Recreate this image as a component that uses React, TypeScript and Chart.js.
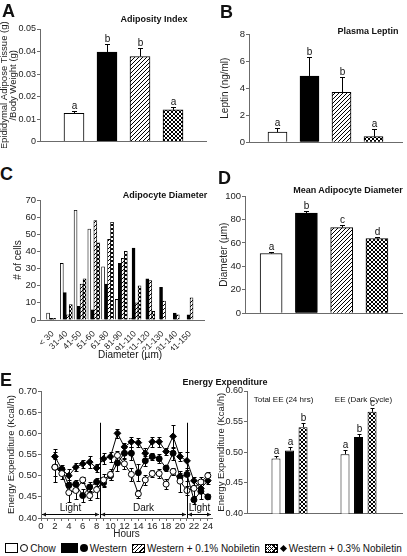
import React, { useEffect, useRef } from 'react';
import { Chart, registerables } from 'chart.js';

Chart.register(...registerables);

const FONT = "'Liberation Sans', Arial, Helvetica, sans-serif";
Chart.defaults.font.family = FONT;
Chart.defaults.color = '#222';

// ---------------- data ----------------
const treatments = ['Chow', 'Western', 'Western + 0.1% Nobiletin', 'Western + 0.3% Nobiletin'];

// A: adiposity index
const adiposityIndex = [0.0125, 0.0398, 0.0378, 0.0141];
const adiposityErr = [0.0011, 0.0034, 0.0037, 0.0011];
const adiposityLetters = ['a', 'b', 'b', 'a'];

// B: plasma leptin
const leptinValues = [0.75, 4.9, 3.7, 0.42];
const leptinErr = [0.32, 1.4, 1.1, 0.55];
const leptinLetters = ['a', 'b', 'b', 'a'];

// C: adipocyte diameter distribution
const diameterBins = ['< 30', '31-40', '41-50', '51-60', '61-80', '81-90', '91-110', '111-120', '121-130', '131-140', '141-150'];
const cellsChow = [4, 33, 64, 53, 31, 12, 1, 0, 0, 0, 0];
const cellsWestern = [1, 16, 8, 6, 21, 33, 42, 24, 19, 4, 3];
const cellsNob01 = [1, 3, 21, 58, 47, 36, 10, 23, 11, 3, 13];
const cellsNob03 = [0, 9, 24, 45, 57, 40, 20, 5, 0, 0, 0];

// D: mean adipocyte diameter
const meanDiameter = [51, 85.5, 73, 63.8];
const meanDiameterErr = [1.2, 1.6, 2.0, 1.0];
const meanDiameterLetters = ['a', 'b', 'c', 'd'];

// E: energy expenditure time course
const eeHours = [2, 3, 4, 5, 6, 7, 8, 9, 10, 11, 12, 13, 14, 15, 16, 17, 18, 19, 20, 21, 22, 23, 24];
const eeChow = [0.520, 0.505, 0.460, 0.465, 0.490, 0.453, 0.467, 0.490, 0.503, 0.548, 0.528, 0.503, 0.457, 0.490, 0.505, 0.505, 0.480, 0.510, 0.487, 0.465, 0.470, 0.485, 0.500];
const eeChowErr = [0.035, 0.012, 0.022, 0.020, 0.008, 0.010, 0.020, 0.015, 0.013, 0.010, 0.012, 0.015, 0.010, 0.012, 0.008, 0.010, 0.012, 0.008, 0.025, 0.010, 0.020, 0.012, 0.008];
const eeWestern = [0.520, 0.515, 0.477, 0.480, 0.453, 0.473, 0.485, 0.483, 0.500, 0.530, 0.553, 0.553, 0.507, 0.535, 0.545, 0.540, 0.518, 0.553, 0.497, 0.503, 0.443, 0.463, 0.450];
const eeWesternErr = [0.020, 0.010, 0.012, 0.010, 0.015, 0.012, 0.010, 0.010, 0.010, 0.020, 0.012, 0.015, 0.020, 0.012, 0.008, 0.010, 0.008, 0.015, 0.010, 0.015, 0.010, 0.018, 0.006];
const eeNob03 = [0.545, 0.515, 0.500, 0.520, 0.528, 0.532, 0.518, 0.540, 0.545, 0.600, 0.568, 0.580, 0.578, 0.553, 0.580, 0.580, 0.557, 0.593, 0.545, 0.535, 0.488, 0.470, 0.488];
const eeNob03Err = [0.018, 0.006, 0.015, 0.010, 0.010, 0.015, 0.010, 0.013, 0.012, 0.010, 0.010, 0.012, 0.010, 0.013, 0.012, 0.012, 0.008, 0.027, 0.010, 0.022, 0.010, 0.010, 0.008];
const phaseNames = ['Light', 'Dark', 'Light'];
const phaseStart = [0, 8.5, 21];
const phaseEnd = [8.5, 21, 24.6];
const phaseDividers = [8.5, 21];
const phaseDividerTop = 0.625;

// E: bar summary
const eeGroups = ['Total EE (24 hrs)', 'EE (Dark Cycle)'];
const eeBarChow = [0.490, 0.497];
const eeBarChowErr = [0.004, 0.006];
const eeBarChowLetters = ['a', 'a'];
const eeBarWestern = [0.503, 0.525];
const eeBarWesternErr = [0.006, 0.005];
const eeBarWesternLetters = ['a', 'b'];
const eeBarNob03 = [0.541, 0.566];
const eeBarNob03Err = [0.007, 0.006];
const eeBarNob03Letters = ['b', 'c'];

// ---------------- helpers ----------------
const AXIS = '#6b6b6b';

function makeHatch(): CanvasPattern {
  const c = document.createElement('canvas');
  c.width = 4; c.height = 4;
  const g = c.getContext('2d')!;
  g.fillStyle = '#fff'; g.fillRect(0, 0, 4, 4);
  g.fillStyle = '#000';
  for (let i = 0; i < 4; i++) g.fillRect(i, 3 - i, 1, 1);
  return g.createPattern(c, 'repeat')!;
}
function makeCheck(): CanvasPattern {
  const c = document.createElement('canvas');
  c.width = 4; c.height = 4;
  const g = c.getContext('2d')!;
  g.fillStyle = '#fff'; g.fillRect(0, 0, 4, 4);
  g.fillStyle = '#000';
  for (let i = 0; i < 4; i++) { g.fillRect(i, i, 1, 1); g.fillRect(i, 3 - i, 1, 1); }
  return g.createPattern(c, 'repeat')!;
}

const errorBarPlugin = {
  id: 'errorBars',
  beforeDatasetsDraw(chart: any) { drawErr(chart, 'both'); },
  afterDatasetsDraw(chart: any) { drawErr(chart, 'up'); },
};

function drawErr(chart: any, mode: 'both' | 'up') {
  const ctx: CanvasRenderingContext2D = chart.ctx;
  const y = chart.scales.y;
  chart.data.datasets.forEach((ds: any, di: number) => {
    const meta = chart.getDatasetMeta(di);
    const errs = mode === 'up' ? ds.errUp : ds.errBoth;
    if (!errs && !(mode === 'up' && ds.letters)) return;
    const cap = ds.capHalf ?? 2.5;
    ctx.save();
    ctx.strokeStyle = '#000';
    ctx.fillStyle = '#111';
    ctx.lineWidth = 1;
    meta.data.forEach((el: any, i: number) => {
      const raw = ds.data[i];
      const val = typeof raw === 'number' ? raw : raw.y;
      const x = Math.round(el.x) + 0.5;
      let topPx = el.y;
      if (errs) {
        const t = Math.round(y.getPixelForValue(val + errs[i])) + 0.5;
        const b = mode === 'up' ? el.y : Math.round(y.getPixelForValue(val - errs[i])) + 0.5;
        ctx.beginPath();
        ctx.moveTo(x, b); ctx.lineTo(x, t);
        ctx.moveTo(x - cap, t); ctx.lineTo(x + cap, t);
        if (mode === 'both') { ctx.moveTo(x - cap, b); ctx.lineTo(x + cap, b); }
        ctx.stroke();
        topPx = t;
      }
      if (mode === 'up' && ds.letters) {
        ctx.font = `10px ${FONT}`;
        ctx.textAlign = 'center';
        ctx.textBaseline = 'bottom';
        ctx.fillText(ds.letters[i], x, topPx);
      }
    });
    ctx.restore();
  });
}

const phasePlugin = {
  id: 'phases',
  afterDatasetsDraw(chart: any) {
    const { ctx, scales: { x, y }, chartArea } = chart;
    ctx.save();
    ctx.strokeStyle = '#000';
    ctx.fillStyle = '#111';
    ctx.lineWidth = 1;
    phaseDividers.forEach((h) => {
      const px = Math.round(x.getPixelForValue(h)) + 0.5;
      ctx.beginPath();
      ctx.moveTo(px, chartArea.bottom);
      ctx.lineTo(px, y.getPixelForValue(phaseDividerTop));
      ctx.stroke();
    });
    const ay = chartArea.bottom - 3.5;
    phaseNames.forEach((name, i) => {
      const x0 = x.getPixelForValue(phaseStart[i]) + 1;
      const x1 = x.getPixelForValue(phaseEnd[i]) - 1;
      ctx.beginPath();
      ctx.moveTo(x0, ay); ctx.lineTo(x1, ay); ctx.stroke();
      ctx.beginPath();
      ctx.moveTo(x0, ay); ctx.lineTo(x0 + 4, ay - 2); ctx.lineTo(x0 + 4, ay + 2); ctx.closePath();
      ctx.moveTo(x1, ay); ctx.lineTo(x1 - 4, ay - 2); ctx.lineTo(x1 - 4, ay + 2); ctx.closePath();
      ctx.fill();
      ctx.font = `10px ${FONT}`;
      ctx.textAlign = 'center';
      ctx.textBaseline = 'bottom';
      ctx.fillText(name, (x0 + x1) / 2, ay - 1);
    });
    ctx.restore();
  },
};

const groupLabelShift = [-6, 5];
const groupLabelPlugin = {
  id: 'groupLabels',
  afterDraw(chart: any) {
    const { ctx, scales: { x }, chartArea } = chart;
    ctx.save();
    ctx.font = `8px ${FONT}`;
    ctx.fillStyle = '#111';
    ctx.textAlign = 'center';
    ctx.textBaseline = 'middle';
    eeGroups.forEach((g, i) => ctx.fillText(g, x.getPixelForValue(i + 1) + groupLabelShift[i], chartArea.top + 9));
    ctx.restore();
  },
};

type Rect = { left: number; top: number; width: number; height: number };
type Plot = { l: number; t: number; r: number; b: number };

function frame(c: Rect, p: Plot) {
  return {
    padding: { top: p.t - c.top, right: c.left + c.width - p.r, left: 0, bottom: 0 },
    yWidth: p.l - c.left,
    xHeight: c.top + c.height - p.b,
  };
}

function yAxis(o: { min: number; max: number; step: number; title: string | string[]; width: number; titlePad: number; tickSize?: number; fixed?: number; titleSize?: number; titleLH?: number }) {
  const ticks: any = { stepSize: o.step, font: { size: o.tickSize ?? 9.5 }, color: '#222', padding: 1 };
  if (o.fixed !== undefined) ticks.callback = (v: number) => Number(v).toFixed(o.fixed);
  const tfont: any = { size: o.titleSize ?? 10 };
  if (o.titleLH) tfont.lineHeight = o.titleLH;
  return {
    type: 'linear', position: 'left', min: o.min, max: o.max,
    ticks,
    grid: { drawOnChartArea: false, drawTicks: true, tickLength: 3, color: AXIS, tickColor: AXIS },
    border: { color: AXIS, width: 1 },
    title: { display: true, text: o.title, font: tfont, color: '#222', padding: { top: o.titlePad, bottom: 0 } },
    afterFit: (s: any) => { s.width = o.width; },
  };
}

function xPlain(min: number, max: number, height: number) {
  return {
    type: 'linear', min, max, offset: false,
    ticks: { display: false },
    grid: { display: false, offset: false },
    border: { color: AXIS, width: 1 },
    afterFit: (s: any) => { s.height = height; },
  };
}

function baseOptions(padding: any) {
  return {
    responsive: false,
    animation: false,
    layout: { padding },
    plugins: { legend: { display: false }, tooltip: { enabled: false }, title: { display: false } },
  };
}

function ChartCanvas({ rect, make }: { rect: Rect; make: () => any }) {
  const ref = useRef<HTMLCanvasElement>(null);
  useEffect(() => {
    const chart = new Chart(ref.current!, make());
    return () => chart.destroy();
  }, []);
  return (
    <canvas
      ref={ref}
      width={rect.width}
      height={rect.height}
      style={{ position: 'absolute', left: rect.left, top: rect.top, width: rect.width, height: rect.height }}
    />
  );
}

function fourBarConfig(values: number[], errs: number[], letters: string[], rect: Rect, plot: Plot, xMin: number, xMax: number, thickness: number, y: any) {
  const f = frame(rect, plot);
  const fills = ['#fff', '#000', makeHatch(), makeCheck()];
  return {
    type: 'bar',
    data: {
      datasets: [{
        data: values.map((v, i) => ({ x: i + 1, y: v })),
        backgroundColor: fills,
        borderColor: '#000',
        borderWidth: 1,
        barThickness: thickness,
        errUp: errs,
        letters,
        capHalf: 2.5,
      }],
    },
    options: {
      ...baseOptions(f.padding),
      scales: { x: xPlain(xMin, xMax, f.xHeight), y: yAxis({ ...y, width: f.yWidth }) },
    },
    plugins: [errorBarPlugin],
  };
}

// panel geometry
const rA: Rect = { left: 0, top: 4, width: 207, height: 144 };
const pA: Plot = { l: 40, t: 29, r: 207, b: 146 };
const rB: Rect = { left: 215, top: 25, width: 192, height: 124 };
const pB: Plot = { l: 249, t: 34, r: 402, b: 147 };
const rC: Rect = { left: 0, top: 185, width: 212, height: 165 };
const pC: Plot = { l: 40, t: 200, r: 210, b: 320 };
const rD: Rect = { left: 212, top: 182, width: 195, height: 138 };
const pD: Plot = { l: 245, t: 196, r: 402, b: 318 };
const rE1: Rect = { left: 0, top: 380, width: 217, height: 160 };
const pE1: Plot = { l: 41, t: 391, r: 215, b: 518 };
const rE2: Rect = { left: 212, top: 380, width: 195, height: 140 };
const pE2: Plot = { l: 247, t: 391, r: 402, b: 518 };

const makeA = () => fourBarConfig(adiposityIndex, adiposityErr, adiposityLetters, rA, pA, -0.03, 5.03, 20,
  { min: 0, max: 0.05, step: 0.01, title: ['Epididymal Adipose Tissue (g)', '/Body Weight (g)'], titlePad: 0, titleSize: 9.5, titleLH: 0.95, tickSize: 9 });

const makeB = () => fourBarConfig(leptinValues, leptinErr, leptinLetters, rB, pB, 0.11, 4.89, 19,
  { min: 0, max: 8, step: 1, title: 'Leptin (ng/ml)', titlePad: 4 });

const makeD = () => fourBarConfig(meanDiameter, meanDiameterErr, meanDiameterLetters, rD, pD, 0.26, 4.71, 22,
  { min: 0, max: 100, step: 20, title: 'Diameter (µm)', titlePad: 6 });

const makeC = () => {
  const f = frame(rC, pC);
  const series = [cellsChow, cellsWestern, cellsNob01, cellsNob03];
  const fills = ['#fff', '#000', makeHatch(), makeCheck()];
  return {
    type: 'bar',
    data: {
      datasets: series.map((s, si) => ({
        label: treatments[si],
        data: s.map((v, i) => ({ x: i, y: v })),
        backgroundColor: fills[si],
        borderColor: '#000',
        borderWidth: 0.8,
        barThickness: 3,
      })),
    },
    options: {
      ...baseOptions(f.padding),
      scales: {
        x: {
          type: 'linear', min: -0.915, max: 11.06, offset: false,
          ticks: {
            stepSize: 1, includeBounds: false, autoSkip: false, minRotation: 45, maxRotation: 45,
            font: { size: 8.5 }, color: '#222', padding: 1,
            callback: (v: number) => diameterBins[v] ?? '',
          },
          grid: { display: false, offset: false },
          border: { color: AXIS, width: 1 },
          afterFit: (s: any) => { s.height = f.xHeight; },
        },
        y: yAxis({ min: 0, max: 70, step: 10, title: '# of cells', width: f.yWidth, titlePad: 12 }),
      },
    },
  };
};

const makeE1 = () => {
  const f = frame(rE1, pE1);
  const mk = (vals: number[], errs: number[], style: string, fill: string, radius: number) => ({
    type: 'line',
    data: eeHours.map((h, i) => ({ x: h, y: vals[i] })),
    borderColor: '#000', borderWidth: 1, tension: 0,
    pointStyle: style, pointRadius: radius, pointBackgroundColor: fill, pointBorderColor: '#000', pointBorderWidth: 1,
    errBoth: errs, capHalf: 2,
  });
  return {
    type: 'line',
    data: {
      datasets: [
        { label: treatments[0], ...mk(eeChow, eeChowErr, 'circle', '#fff', 3) },
        { label: treatments[1], ...mk(eeWestern, eeWesternErr, 'circle', '#000', 3) },
        { label: treatments[3], ...mk(eeNob03, eeNob03Err, 'rectRot', '#000', 3.4) },
      ],
    },
    options: {
      ...baseOptions(f.padding),
      scales: {
        x: {
          type: 'linear', min: 0, max: 24.6, offset: false,
          ticks: {
            stepSize: 1, includeBounds: false, autoSkip: false, maxRotation: 0, minRotation: 0,
            font: { size: 9.5 }, color: '#222', padding: 0,
            callback: (v: number) => (v % 2 === 0 ? String(v) : ''),
          },
          grid: { drawOnChartArea: false, drawTicks: true, tickLength: 3, color: AXIS, tickColor: AXIS },
          border: { color: AXIS, width: 1 },
          title: { display: true, text: 'Hours', font: { size: 10 }, color: '#222', padding: { top: 0, bottom: 0 } },
          afterFit: (s: any) => { s.height = f.xHeight; },
        },
        y: yAxis({ min: 0.4, max: 0.7, step: 0.05, title: 'Energy Expenditure (Kcal/h)', width: f.yWidth, titlePad: 6, fixed: 2, titleSize: 9.5 }),
      },
    },
    plugins: [errorBarPlugin, phasePlugin],
  };
};

const makeE2 = () => {
  const f = frame(rE2, pE2);
  const offset = 0.196;
  const series = [
    { v: eeBarChow, e: eeBarChowErr, l: eeBarChowLetters, fill: '#fff' as any, name: treatments[0] },
    { v: eeBarWestern, e: eeBarWesternErr, l: eeBarWesternLetters, fill: '#000' as any, name: treatments[1] },
    { v: eeBarNob03, e: eeBarNob03Err, l: eeBarNob03Letters, fill: makeCheck() as any, name: treatments[3] },
  ];
  return {
    type: 'bar',
    data: {
      datasets: series.map((s, si) => ({
        label: s.name,
        data: s.v.map((v, gi) => ({ x: gi + 1 + (si - 1) * offset, y: v })),
        backgroundColor: s.fill,
        borderColor: '#000',
        borderWidth: 1,
        grouped: false,
        maxBarThickness: 9,
        errUp: s.e,
        letters: s.l,
        capHalf: 2,
      })),
    },
    options: {
      ...baseOptions(f.padding),
      scales: {
        x: xPlain(0.384, 2.63, f.xHeight),
        y: yAxis({ min: 0.4, max: 0.6, step: 0.05, title: 'Energy Expenditure (Kcal/h)', width: f.yWidth, titlePad: 4, tickSize: 9, fixed: 2, titleSize: 9.5 }),
      },
    },
    plugins: [errorBarPlugin, groupLabelPlugin],
  };
};

function Txt({ x, y, children, size = 9, bold = false, align = 'center' }: any) {
  return (
    <div style={{
      position: 'absolute', left: x, top: y, whiteSpace: 'nowrap', lineHeight: 1,
      font: `${bold ? 'bold ' : ''}${size}px ${FONT}`, color: '#111',
      transform: align === 'center' ? 'translate(-50%, -50%)' : 'translate(0, -50%)',
    }}>{children}</div>
  );
}

const swatch = (bg: string, w: number, h: number): React.CSSProperties => ({
  display: 'inline-block', width: w, height: h, border: '1px solid #000', background: bg, boxSizing: 'border-box',
});

export default function App() {
  const hatchCss = 'repeating-linear-gradient(135deg, #000 0 1px, #fff 1px 3px)';
  const checkCss = 'repeating-linear-gradient(45deg, #000 0 1px, transparent 1px 3px), repeating-linear-gradient(135deg, #000 0 1px, #fff 1px 3px)';
  const item: React.CSSProperties = { display: 'inline-flex', alignItems: 'center', gap: 2, marginRight: 5 };
  return (
    <div style={{ position: 'absolute', left: 0, top: 0, width: 407, height: 556, background: '#fff', overflow: 'hidden' }}>
      <ChartCanvas rect={rA} make={makeA} />
      <ChartCanvas rect={rB} make={makeB} />
      <ChartCanvas rect={rC} make={makeC} />
      <ChartCanvas rect={rD} make={makeD} />
      <ChartCanvas rect={rE1} make={makeE1} />
      <ChartCanvas rect={rE2} make={makeE2} />

      <Txt x={2} y={11} size={18} bold align="left">A</Txt>
      <Txt x={154} y={19} bold>Adiposity Index</Txt>
      <Txt x={220} y={12} size={18} bold align="left">B</Txt>
      <Txt x={368} y={31} bold>Plasma Leptin</Txt>
      <Txt x={0} y={174} size={18} bold align="left">C</Txt>
      <Txt x={165} y={195} bold>Adipocyte Diameter</Txt>
      <Txt x={130} y={354} size={10}>Diameter (µm)</Txt>
      <Txt x={218} y={178} size={18} bold align="left">D</Txt>
      <Txt x={348} y={190} bold>Mean Adipocyte Diameter</Txt>
      <Txt x={0} y={380} size={18} bold align="left">E</Txt>
      <Txt x={225} y={382} bold>Energy Expenditure</Txt>

      <div style={{ position: 'absolute', left: 0, top: 541, width: 407, height: 14, display: 'flex', justifyContent: 'center', alignItems: 'center', font: `10px ${FONT}`, color: '#111', whiteSpace: 'nowrap' }}>
        <span style={item}>
          <span style={swatch('#fff', 13, 10)} />
          <span style={{ display: 'inline-block', width: 8, height: 8, borderRadius: '50%', border: '1px solid #000', boxSizing: 'border-box' }} />
          <span>{treatments[0]}</span>
        </span>
        <span style={item}>
          <span style={swatch('#000', 17, 10)} />
          <span style={{ display: 'inline-block', width: 8, height: 8, borderRadius: '50%', background: '#000' }} />
          <span>{treatments[1]}</span>
        </span>
        <span style={item}>
          <span style={swatch(hatchCss, 13, 9)} />
          <span>{treatments[2]}</span>
        </span>
        <span style={{ ...item, marginRight: 0 }}>
          <span style={swatch(checkCss, 13, 9)} />
          <span style={{ display: 'inline-block', width: 5, height: 5, background: '#000', transform: 'rotate(45deg)', margin: '0 1px' }} />
          <span>{treatments[3]}</span>
        </span>
      </div>
    </div>
  );
}
